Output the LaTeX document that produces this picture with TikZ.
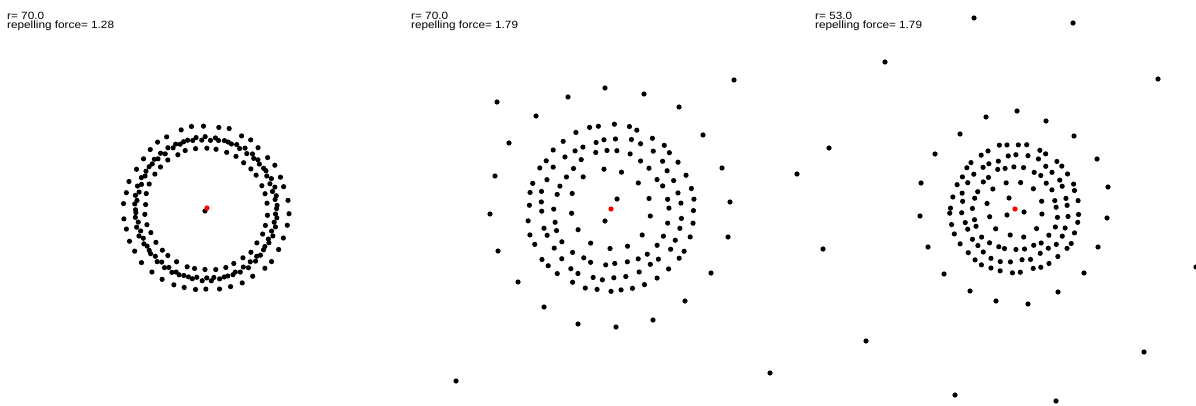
\documentclass[tikz,border=0pt]{standalone}
\usepackage{fontspec}
\setmainfont{Liberation Sans}
\begin{document}
\begin{tikzpicture}[x=1pt,y=-1pt,
  dot/.style={fill=black},
  reddot/.style={fill=red},
  label/.style={anchor=north west,inner sep=0pt,align=left,font=\fontsize{10.5}{9.2}\selectfont}]
\useasboundingbox (0,0) rectangle (1196,406);
\pgfmathsetseed{7}
% ring: cx, cy, r, n, phase, wave amplitude, wave frequency, jitter
\newcommand\dotring[8]{%
  \foreach \k in {1,...,#4}{%
    \pgfmathsetmacro\ang{#5+(360/#4)*\k+rand*2.5*#8}%
    \pgfmathsetmacro\rr{#3+#6*sin(#7*\ang)+rand*1.2*#8}%
    \fill[dot] ({#1+\rr*cos(\ang)},{#2+\rr*sin(\ang)}) circle[radius=2.6pt];
  }}
\newcommand\dotat[2]{\fill[dot] (#1,#2) circle[radius=2.6pt];}

% ---------- panel 1 ----------
\node[label] (t1) at (7,12) {\scalebox{1.12}[1]{r= 70.0}\\\scalebox{1.12}[1]{repelling force= 1.28}};
\dotring{206}{209}{82}{42}{3}{1.2}{3}{0.8}
\dotring{206}{209}{70.5}{50}{0}{1.6}{5}{0.3}
\dotring{206}{209}{70.5}{50}{3.6}{-1.6}{5}{0.3}
\dotring{206}{209}{61}{38}{5}{0.8}{2}{0.5}
\dotat{205}{211}
\fill[reddot] (207,208) circle[radius=2.6pt];

% ---------- panel 2 ----------
\node[label] (t2) at (411,12) {\scalebox{1.12}[1]{r= 70.0}\\\scalebox{1.12}[1]{repelling force= 1.79}};
\dotring{611}{209}{83}{40}{2}{1.5}{3}{1}
\dotring{611}{209}{70}{36}{6}{1.5}{4}{1}
\dotring{611}{209}{57}{30}{1}{1.5}{3}{1}
\dotring{611}{209}{40}{13}{10}{1.5}{2}{1}
\dotat{617}{199}
\dotat{605}{221}
\foreach \px/\py in {497/102,568/97,605/88,644/94,734/80,679/107,536/116,509/143,
  703/135,495/176,722/168,490/214,730/202,728/237,498/251,711/273,518/282,685/301,
  544/307,653/320,578/324,616/327,456/381,770/373}{\dotat{\px}{\py}}
\fill[reddot] (611,209) circle[radius=2.6pt];

% ---------- panel 3 ----------
\node[label] (t3) at (815,12) {\scalebox{1.12}[1]{r= 53.0}\\\scalebox{1.12}[1]{repelling force= 1.79}};
\dotring{1015}{209}{64}{40}{3}{1.2}{3}{1}
\dotring{1015}{209}{53}{34}{8}{1.2}{4}{1}
\dotring{1015}{209}{42}{28}{0}{1.2}{3}{1}
\dotring{1015}{209}{28}{12}{12}{1.2}{2}{1}
\dotat{1009}{198}
\dotat{1024}{212}
\dotat{1007}{215}
\foreach \px/\py in {974/18,1073/23,885/62,1158/79,1017/111,986/117,1046/121,960/134,
  1074/136,829/148,935/154,1097/159,797/174,1108/187,921/183,920/216,1107/218,823/249,
  928/247,1098/247,1196/267,944/274,1084/273,970/291,1058/292,996/301,1028/304,866/341,
  1144/352,955/395,1056/401}{\dotat{\px}{\py}}
\fill[reddot] (1015,209) circle[radius=2.6pt];
\end{tikzpicture}
\end{document}
